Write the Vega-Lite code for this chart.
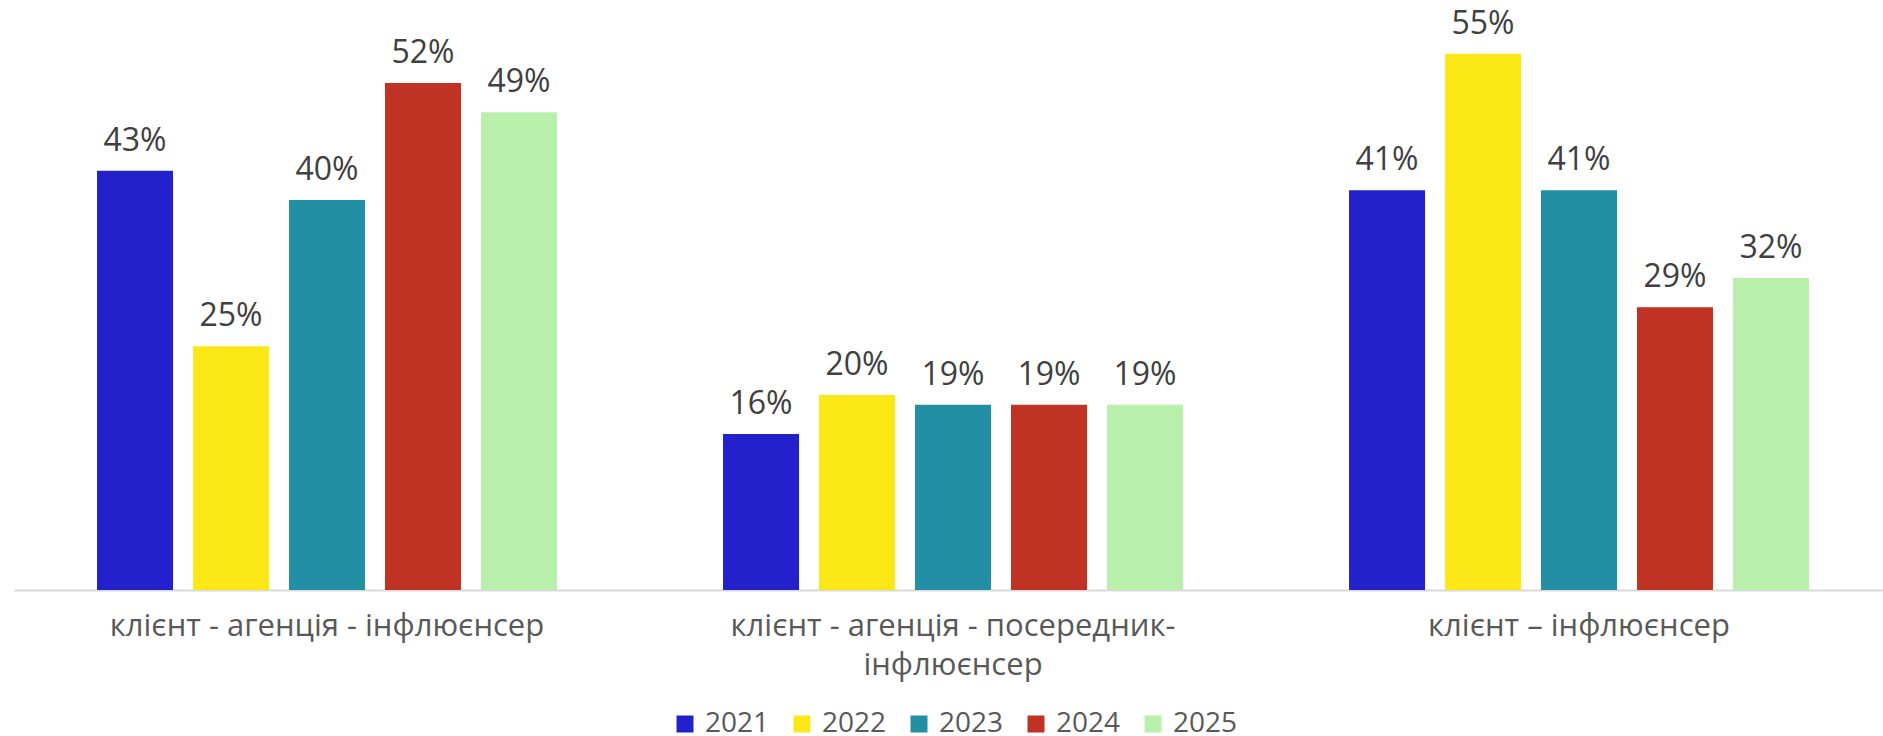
{
  "$schema": "https://vega.github.io/schema/vega-lite/v6.json",
  "width": 1869,
  "height": 590,
  "autosize": {"type": "none"},
  "padding": {"left": 14, "top": 0, "right": 0, "bottom": 146},
  "background": "white",
  "config": {"view": {"stroke": null}, "font": "Open Sans"},
  "data": {
    "values": [
      {"cat": "клієнт - агенція - інфлюєнсер", "year": "2021", "value": 0.43},
      {"cat": "клієнт - агенція - інфлюєнсер", "year": "2022", "value": 0.25},
      {"cat": "клієнт - агенція - інфлюєнсер", "year": "2023", "value": 0.40},
      {"cat": "клієнт - агенція - інфлюєнсер", "year": "2024", "value": 0.52},
      {"cat": "клієнт - агенція - інфлюєнсер", "year": "2025", "value": 0.49},
      {"cat": "клієнт - агенція - посередник-інфлюєнсер", "year": "2021", "value": 0.16},
      {"cat": "клієнт - агенція - посередник-інфлюєнсер", "year": "2022", "value": 0.20},
      {"cat": "клієнт - агенція - посередник-інфлюєнсер", "year": "2023", "value": 0.19},
      {"cat": "клієнт - агенція - посередник-інфлюєнсер", "year": "2024", "value": 0.19},
      {"cat": "клієнт - агенція - посередник-інфлюєнсер", "year": "2025", "value": 0.19},
      {"cat": "клієнт – інфлюєнсер", "year": "2021", "value": 0.41},
      {"cat": "клієнт – інфлюєнсер", "year": "2022", "value": 0.55},
      {"cat": "клієнт – інфлюєнсер", "year": "2023", "value": 0.41},
      {"cat": "клієнт – інфлюєнсер", "year": "2024", "value": 0.29},
      {"cat": "клієнт – інфлюєнсер", "year": "2025", "value": 0.32}
    ]
  },
  "encoding": {
    "x": {
      "field": "cat",
      "type": "nominal",
      "sort": ["клієнт - агенція - інфлюєнсер", "клієнт - агенція - посередник-інфлюєнсер", "клієнт – інфлюєнсер"],
      "scale": {"range": [0, 1878], "paddingInner": 0, "paddingOuter": 0},
      "axis": {
        "title": null,
        "ticks": false,
        "domainColor": "#d9d9d9",
        "domainWidth": 2,
        "labelAngle": 0,
        "labelFont": "Open Sans",
        "labelFontSize": 31,
        "labelColor": "#595959",
        "labelPadding": 21,
        "labelLimit": 1000,
        "labelLineHeight": 39,
        "labelExpr": "datum.value == 'клієнт - агенція - посередник-інфлюєнсер' ? ['клієнт - агенція - посередник-', 'інфлюєнсер'] : datum.value"
      }
    },
    "xOffset": {
      "field": "year",
      "type": "nominal",
      "scale": {"paddingInner": 0.208, "paddingOuter": 0.865}
    },
    "y": {
      "field": "value",
      "type": "quantitative",
      "scale": {"domain": [0, 0.605]},
      "axis": null
    }
  },
  "layer": [
    {
      "mark": {"type": "bar"},
      "encoding": {
        "color": {
          "field": "year",
          "type": "nominal",
          "scale": {
            "domain": ["2021", "2022", "2023", "2024", "2025"],
            "range": ["#2321CB", "#FDE817", "#238FA5", "#C03223", "#B8F0AB"]
          },
          "legend": {
            "title": null,
            "orient": "none",
            "legendX": 657,
            "legendY": 710,
            "direction": "horizontal",
            "symbolType": "square",
            "symbolSize": 289,
            "symbolStrokeWidth": 0,
            "symbolOpacity": 1,
            "labelFont": "Open Sans",
            "labelFontSize": 28,
            "labelColor": "#595959",
            "labelOffset": 6,
            "columnPadding": 18,
            "padding": 0
          }
        }
      }
    },
    {
      "mark": {"type": "text", "dy": -20, "baseline": "alphabetic", "fontSize": 32, "color": "#404040", "font": "Open Sans"},
      "encoding": {
        "text": {"field": "value", "type": "quantitative", "format": ".0%"}
      }
    }
  ]
}
